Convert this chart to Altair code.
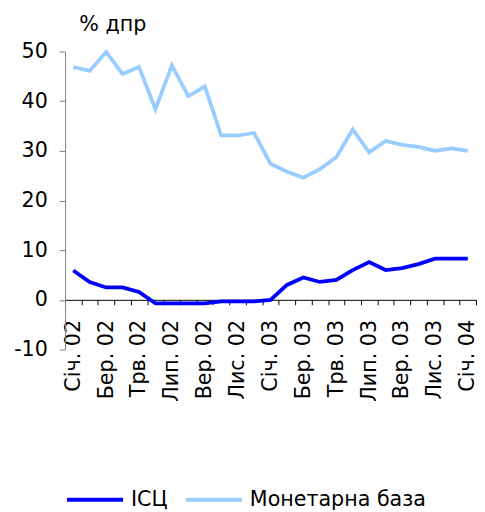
import altair as alt
import pandas as pd

months = ["Січ. 02", "Лют. 02", "Бер. 02", "Кві. 02", "Трв. 02", "Чер. 02",
          "Лип. 02", "Сер. 02", "Вер. 02", "Жов. 02", "Лис. 02", "Гру. 02",
          "Січ. 03", "Лют. 03", "Бер. 03", "Кві. 03", "Трв. 03", "Чер. 03",
          "Лип. 03", "Сер. 03", "Вер. 03", "Жов. 03", "Лис. 03", "Гру. 03",
          "Січ. 04"]
cpi = [5.9, 3.6, 2.5, 2.5, 1.6, -0.7, -0.7, -0.7, -0.7, -0.3, -0.3, -0.3,
       0.0, 3.0, 4.5, 3.6, 4.0, 6.0, 7.6, 6.0, 6.4, 7.2, 8.3, 8.3, 8.3]
mbase = [46.9, 46.1, 49.9, 45.5, 46.9, 38.4, 47.2, 41.0, 43.0, 33.1, 33.1, 33.6,
         27.4, 25.8, 24.6, 26.3, 28.7, 34.3, 29.7, 32.0, 31.2, 30.8, 30.0, 30.5, 30.0]
series = ["ІСЦ", "Монетарна база"]
colors = ["#0000FF", "#99CCFF"]
y_ticks = [-10, 0, 10, 20, 30, 40, 50]

rows = []
for i, (m, a, b) in enumerate(zip(months, cpi, mbase)):
    rows.append({"idx": i, "month": m, "series": series[0], "value": a})
    rows.append({"idx": i, "month": m, "series": series[1], "value": b})
df = pd.DataFrame(rows)

n = len(months)
W, H = 418, 303
FONT = "DejaVu Sans"
FS = 21

x_scale = alt.Scale(domain=[-0.5, n - 0.5], nice=False, zero=False)
boundary_ticks = [i - 0.5 for i in range(n + 1)]
label_ticks = list(range(0, n, 2))
months_js = "[" + ",".join(f"'{m}'" for m in months) + "]"
label_expr = f"{months_js}[datum.value]"

y_enc = alt.Y("value:Q", scale=alt.Scale(domain=[-10, 50], nice=False, zero=False),
              axis=alt.Axis(values=y_ticks, grid=False, title="% дпр",
                            labelExpr="'' + datum.value",
                            titleAngle=0, titleAlign="left", titleBaseline="alphabetic",
                            titleX=14, titleY=-21, titleFontWeight="normal",
                            titleFontSize=FS, titleFont=FONT, titleColor="black",
                            domainColor="#808080", tickColor="#808080", tickSize=6,
                            labelPadding=12, labelFontSize=FS, labelFont=FONT,
                            labelColor="black"))
color_enc = alt.Color("series:N", sort=series,
                      scale=alt.Scale(domain=series, range=colors),
                      legend=alt.Legend(title=None, orient="none", direction="horizontal",
                                        legendX=0, legendY=425,
                                        symbolType="stroke", symbolSize=3249,
                                        symbolStrokeWidth=4, labelFontSize=FS,
                                        labelFont=FONT, labelColor="black",
                                        labelLimit=400,
                                        labelOffset=6, columnPadding=10))

# layer carrying the month labels (centered on each month)
cpi_line = alt.Chart(df).transform_filter(
    alt.datum.series == series[0]
).mark_line(strokeWidth=3.8).encode(
    x=alt.X("idx:Q", scale=x_scale,
            axis=alt.Axis(title=None, orient="bottom", offset=-H / 6,
                          values=label_ticks, labelExpr=label_expr, labelAngle=-90,
                          ticks=False, tickSize=0, domain=False, grid=False,
                          labelOverlap=False, labelFlush=False, labelBound=False,
                          labelPadding=20, labelFontSize=FS, labelColor="black",
                          labelFont=FONT)),
    y=y_enc, color=color_enc,
)

# layer carrying the zero-line axis with ticks between months
mb_line = alt.Chart(df).transform_filter(
    alt.datum.series == series[1]
).mark_line(strokeWidth=3.8).encode(
    x=alt.X("idx:Q", scale=x_scale,
            axis=alt.Axis(title=None, orient="bottom", offset=-H / 6,
                          values=boundary_ticks, labels=False, grid=False,
                          tickSize=5, tickColor="black", domainColor="black")),
    y=y_enc, color=color_enc,
)

chart = alt.layer(mb_line, cpi_line).resolve_axis(x="independent").properties(
    width=W, height=H,
    autosize=alt.AutoSizeParams(type="none"),
    padding={"left": 58, "top": 40, "right": 1, "bottom": 162},
).configure_view(stroke=None)

chart.save("out.html", embed_options={"renderer": "svg", "actions": False})
